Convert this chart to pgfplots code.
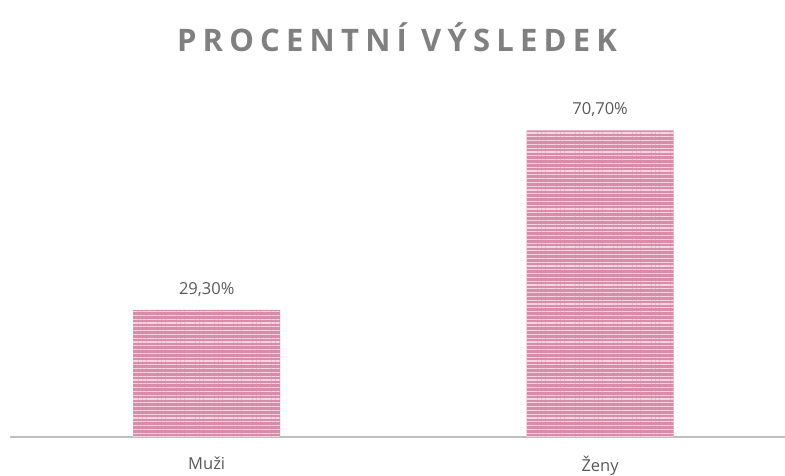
\documentclass[border=0pt]{standalone}
\usepackage{fontspec}
\setmainfont{Open Sans}
\newfontfamily\titlefont[LetterSpace=20]{Open Sans}
\usepackage{pgfplots}
\pgfplotsset{compat=1.18}
\usetikzlibrary{patterns.meta}
\definecolor{barpink}{RGB}{216,140,168}
\definecolor{stripe}{RGB}{244,212,224}
\definecolor{axisgray}{RGB}{191,191,191}
\definecolor{titlegray}{RGB}{128,128,128}
\definecolor{labelgray}{RGB}{89,89,89}
\begin{document}
\begin{tikzpicture}
\useasboundingbox (-10pt,-38pt) rectangle (775pt,437pt);
\begin{axis}[
    scale only axis,
    width=775pt, height=347pt,
    xmin=-0.5, xmax=1.47,
    ymin=0, ymax=80,
    ybar,
    bar width=147pt,
    hide y axis,
    axis x line*=bottom,
    x axis line style={-, draw=axisgray, line width=1.6pt},
    xtick={0,1},
    xticklabels={Muži,Ženy},
    major tick length=0pt,
    xticklabel style={font=\fontsize{16.5}{19}\selectfont, text=labelgray, yshift=-16pt},
    /pgf/number format/assume math mode=true,
    nodes near coords={\pgfmathprintnumber[fixed,fixed zerofill,precision=2,use comma]{\pgfplotspointmeta}\%},
    nodes near coords style={font=\fontsize{16.5}{19}\selectfont, text=labelgray, yshift=10pt},
]
\addplot[fill=barpink, draw=none,
    postaction={pattern={Lines[angle=0,distance=3.8pt,line width=1.3pt]}, pattern color=stripe}]
    coordinates {(0,29.3) (1,70.7)};
\end{axis}
\node[font=\titlefont\bfseries\fontsize{31}{36}\selectfont, text=titlegray] at (387pt,400pt) {PROCENTNÍ VÝSLEDEK};
\end{tikzpicture}
\end{document}
